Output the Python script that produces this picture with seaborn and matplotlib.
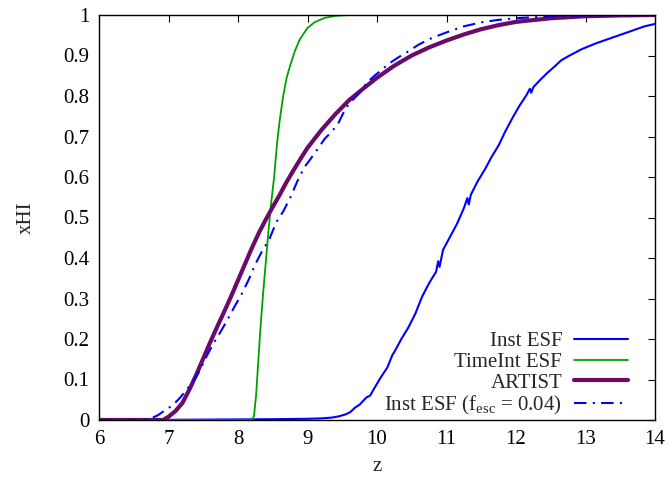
import numpy as np
import pandas as pd
import matplotlib
matplotlib.use('Agg')
import matplotlib.pyplot as plt
import seaborn as sns

# ── dados ────────────────────────────────────────────
z_inst = [6.0, 6.5, 7.0, 7.5, 8.0, 8.5, 9.0, 9.2, 9.35, 9.45, 9.55, 9.62, 9.68,
          9.75, 9.85, 9.9, 9.95, 10.05, 10.15, 10.22, 10.25, 10.35, 10.45, 10.55,
          10.65, 10.75, 10.85, 10.88, 10.9, 10.95, 11.05, 11.15, 11.25, 11.3,
          11.32, 11.35, 11.45, 11.55, 11.65, 11.75, 11.85, 11.95, 12.05, 12.15,
          12.2, 12.22, 12.25, 12.35, 12.45, 12.55, 12.65, 12.75, 12.85, 12.95,
          13.05, 13.15, 13.25, 13.35, 13.45, 13.55, 13.65, 13.75, 13.85, 14.0]
xhi_inst = [0.0, 0.0, 0.0005, 0.001, 0.0015, 0.002, 0.003, 0.004, 0.006, 0.009,
            0.014, 0.020, 0.030, 0.038, 0.056, 0.060, 0.075, 0.104, 0.130,
            0.160, 0.168, 0.200, 0.228, 0.262, 0.305, 0.338, 0.366, 0.392,
            0.378, 0.420, 0.452, 0.484, 0.523, 0.548, 0.532, 0.556, 0.590,
            0.618, 0.650, 0.678, 0.714, 0.746, 0.776, 0.802, 0.818, 0.808,
            0.822, 0.840, 0.857, 0.872, 0.888, 0.898, 0.907, 0.916, 0.923,
            0.930, 0.936, 0.942, 0.948, 0.954, 0.960, 0.966, 0.972, 0.978]

z_timeint = [6.0, 8.0, 8.2, 8.23, 8.26, 8.29, 8.32, 8.36, 8.40, 8.44, 8.48, 8.52,
             8.56, 8.60, 8.65, 8.70, 8.75, 8.82, 8.89, 9.0, 9.1, 9.25, 9.4, 9.6, 14.0]
xhi_timeint = [0.0, 0.0, 0.0, 0.01, 0.06, 0.14, 0.22, 0.31, 0.39, 0.47, 0.54, 0.60,
               0.68, 0.74, 0.80, 0.845, 0.875, 0.912, 0.940, 0.968, 0.982, 0.993,
               0.998, 1.0, 1.0]

z_artist = [6.0, 6.8, 6.92, 7.0, 7.1, 7.2, 7.3, 7.4, 7.5, 7.6, 7.7, 7.8, 7.9, 8.0,
            8.1, 8.2, 8.3, 8.4, 8.5, 8.6, 8.7, 8.8, 8.9, 9.0, 9.2, 9.4, 9.6, 9.8,
            10.0, 10.25, 10.5, 10.75, 11.0, 11.25, 11.5, 11.75, 12.0, 12.5, 13.0,
            13.5, 14.0]
xhi_artist = [0.0, 0.0, 0.0, 0.008, 0.022, 0.042, 0.075, 0.112, 0.152, 0.192,
              0.230, 0.267, 0.305, 0.345, 0.385, 0.425, 0.462, 0.495, 0.526,
              0.556, 0.588, 0.617, 0.645, 0.672, 0.716, 0.755, 0.790, 0.818,
              0.845, 0.875, 0.900, 0.920, 0.937, 0.952, 0.965, 0.975, 0.983,
              0.992, 0.997, 0.999, 1.0]

z_fesc = [6.0, 6.6, 6.75, 6.85, 6.95, 7.05, 7.15, 7.25, 7.35, 7.45, 7.55, 7.65,
          7.75, 7.85, 7.95, 8.05, 8.15, 8.25, 8.35, 8.45, 8.55, 8.65, 8.75, 8.85,
          8.95, 9.05, 9.15, 9.25, 9.35, 9.45, 9.55, 9.65, 9.75, 9.85, 9.95,
          10.05, 10.15, 10.25, 10.35, 10.45, 10.6, 10.8, 11.0, 11.25, 11.5,
          11.75, 12.0, 12.5, 13.0, 14.0]
xhi_fesc = [0.0, 0.0, 0.004, 0.012, 0.024, 0.035, 0.052, 0.072, 0.094, 0.122,
            0.158, 0.190, 0.218, 0.248, 0.280, 0.310, 0.345, 0.385, 0.418,
            0.446, 0.488, 0.515, 0.548, 0.588, 0.623, 0.646, 0.670, 0.695,
            0.712, 0.735, 0.770, 0.790, 0.808, 0.832, 0.848, 0.862, 0.877,
            0.889, 0.900, 0.910, 0.927, 0.944, 0.957, 0.972, 0.982, 0.988,
            0.992, 0.997, 0.999, 1.0]

rotulos = ['Inst ESF', 'TimeInt ESF', 'ARTIST', r'Inst ESF (f$_{\mathrm{esc}}$ = 0.04)']
cores = ['#0000ff', '#00a000', '#6a0a6a', '#0000ff']

# ── estilo ───────────────────────────────────────────
sns.set_style('white')
plt.rcParams['font.family'] = ['Liberation Serif', 'DejaVu Serif']
plt.rcParams['mathtext.fontset'] = 'custom'
plt.rcParams['mathtext.rm'] = 'Liberation Serif'
plt.rcParams['font.size'] = 15

fig = plt.figure(figsize=(6.67, 4.78), dpi=100)
ax = fig.add_axes([99 / 667, 1 - 420 / 478, 556 / 667, 405 / 478])

series = [
    (z_inst, xhi_inst, dict(linewidth=1.5)),
    (z_timeint, xhi_timeint, dict(linewidth=1.3)),
    (z_artist, xhi_artist, dict(linewidth=3.0)),
    (z_fesc, xhi_fesc, dict(linewidth=1.5, dashes=(6, 3, 1, 3))),
]
for (zz, yy, kw), lab, cor in zip(series, rotulos, cores):
    d = pd.DataFrame({'z': zz, 'xHI': yy})
    linha_kw = dict(kw)
    dashes = linha_kw.pop('dashes', None)
    sns.lineplot(data=d, x='z', y='xHI', color=cor, label=lab, sort=False,
                 estimator=None, ax=ax, **linha_kw)
    if dashes is not None:
        ax.lines[-1].set_dashes(dashes)

ax.set_xlim(6, 14)
ax.set_ylim(0, 1)
ax.set_xticks(np.arange(6, 15, 1))
ax.set_yticks(np.round(np.arange(0, 1.01, 0.1), 1))
ax.set_yticklabels(['0', '0.1', '0.2', '0.3', '0.4', '0.5', '0.6', '0.7', '0.8', '0.9', '1'])
ax.tick_params(direction='in', length=5, width=0.8, top=True, right=True,
               labelsize=15, pad=7, colors='black')
for s in ax.spines.values():
    s.set_visible(True)
    s.set_color('black')
    s.set_linewidth(1.0)

ax.set_xlabel('z', fontsize=15, labelpad=6)
ax.set_ylabel('xHI', fontsize=15, labelpad=20)

leg = ax.legend(loc='lower right', bbox_to_anchor=(0.951, 0.008), frameon=False,
                markerfirst=False, handlelength=2.6, labelspacing=0.05,
                handletextpad=0.55, borderaxespad=0.0, borderpad=0.0, fontsize=15)

plt.savefig('out.png', dpi=100)
